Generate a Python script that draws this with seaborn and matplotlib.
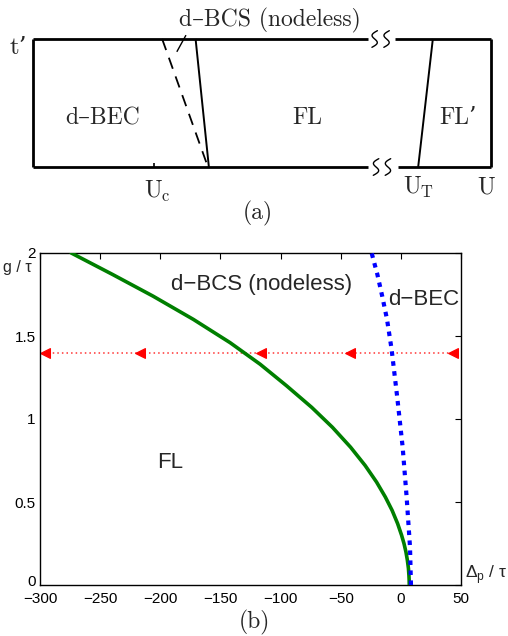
import numpy as np
import matplotlib
matplotlib.use("Agg")
import matplotlib.pyplot as plt
import matplotlib.transforms as mtransforms
import seaborn as sns
import pandas as pd

sns.set_style("white")
plt.rcParams['font.family'] = ['Liberation Sans', 'DejaVu Sans']

# ---------------- data: panel (b) ----------------
green_g = [0.00, 0.03, 0.06, 0.10, 0.15, 0.20, 0.25, 0.30, 0.37, 0.45, 0.53,
           0.62, 0.72, 0.83, 0.95, 1.07, 1.20, 1.33, 1.46, 1.60, 1.74, 1.87, 2.00]
green_dp = [7.0, 6.9, 6.7, 6.3, 5.4, 4.2, 2.6, 0.6, -2.7, -7.3, -12.9,
            -20.2, -29.7, -41.8, -56.9, -74.1, -95.0, -117.0, -142.0, -172.5,
            -206.0, -239.5, -274.0]
blue_g = [0.00, 0.23, 0.53, 0.83, 1.13, 1.42, 1.60, 1.74, 1.87, 2.00]
blue_dp = [8.4, 7.6, 4.8, 1.5, -3.0, -7.7, -11.5, -15.5, -19.5, -24.3]
red_dp = [43.0, -42.0, -116.0, -217.0, -296.0]
red_g = [1.4, 1.4, 1.4, 1.4, 1.4]
xticks_b = [-300, -250, -200, -150, -100, -50, 0, 50]
yticks_b = [0, 0.5, 1, 1.5, 2]
ytick_labels_b = ["0", "0.5", "1", "1.5", "2"]

# ---------------- schematic: panel (a) (schematic units) ----------------
box_top_left = [0.0, 0.731]
box_top_right = [0.790, 1.0]
box_bot_left = [0.0, 0.731]
box_bot_right = [0.797, 1.0]
solid_line_x = [0.355, 0.384]
dashed_line_x = [0.282, 0.382]
ut_line_x = [0.873, 0.841]
uc_tick_x = 0.264
pointer_x = [0.314, 0.334]
pointer_y = [0.90, 1.03]
break_top_x = [0.746, 0.772]
break_bot_x = [0.749, 0.775]

fig = plt.figure(figsize=(5.08, 6.36), dpi=100)

# ---------------- panel (a) ----------------
axa = fig.add_axes([33/508, (636-167)/636, 458/508, 128/636])
axa.set_xlim(0, 1)
axa.set_ylim(0, 1)
axa.axis('off')
lk = dict(color='black', clip_on=False, solid_capstyle='butt')
axa.plot(box_top_left, [1, 1], lw=2.0, **lk)
axa.plot(box_top_right, [1, 1], lw=2.0, **lk)
axa.plot(box_bot_left, [0, 0], lw=2.0, **lk)
axa.plot(box_bot_right, [0, 0], lw=2.0, **lk)
axa.plot([0, 0], [0, 1], lw=2.0, **lk)
axa.plot([1, 1], [0, 1], lw=2.0, **lk)
axa.plot(solid_line_x, [1, 0], lw=1.4, **lk)
axa.plot(ut_line_x, [1, 0], lw=1.4, **lk)
axa.plot(dashed_line_x, [1, 0], lw=1.3, color='black', dashes=(6.5, 4.5), clip_on=False)
axa.plot([uc_tick_x, uc_tick_x], [0, 0.03], lw=1.2, **lk)
axa.plot(pointer_x, pointer_y, lw=1.0, **lk)

t = np.linspace(0, 1, 60)
def s_curve(xc, yc):
    w = 0.0085
    h = 0.13
    xs = xc - w * np.sin(2 * np.pi * t) + 0.012 * (0.5 - t)
    ys = yc + h * (0.5 - t)
    return xs, ys
for xc in break_top_x:
    xs, ys = s_curve(xc, 1.0)
    axa.plot(xs, ys, lw=1.0, color='black', clip_on=False)
for xc in break_bot_x:
    xs, ys = s_curve(xc, 0.0)
    axa.plot(xs, ys, lw=1.0, color='black', clip_on=False)

cm = dict(family=['cmr10', 'DejaVu Serif'], fontsize=17, ha='center', va='center')
axa.text(-0.012, 0.93, "t\u2019", family=['cmr10', 'DejaVu Serif'], fontsize=18,
         ha='right', va='center')
axa.text(0.153, 0.383, "d\u2013BEC", **cm)
axa.text(0.598, 0.383, "FL", **cm)
axa.text(0.928, 0.383, "FL\u2019", **cm)
axa.text(0.271, -0.19, r"U$_\mathregular{c}$", **cm)
axa.text(0.841, -0.16, r"U$_\mathregular{T}$", **cm)
axa.text(0.989, -0.16, "U", **cm)
axa.text(0.517, 1.148, "d\u2013BCS (nodeless)", **cm)
axa.text(0.491, -0.36, "(a)", **cm)

# ---------------- panel (b) ----------------
axb = fig.add_axes([40/508, (636-585)/636, 421/508, 332/636])
df_g = pd.DataFrame({'dp': green_dp, 'g': green_g})
df_b = pd.DataFrame({'dp': blue_dp, 'g': blue_g})
df_r = pd.DataFrame({'dp': red_dp, 'g': red_g})
sns.lineplot(data=df_r, x='dp', y='g', sort=False, estimator=None, ax=axb,
             color='#ff3333', lw=1.1, linestyle=(0, (1, 2)), marker='<',
             markersize=7, markerfacecolor='red', markeredgecolor='red', zorder=2)
sns.lineplot(data=df_g, x='dp', y='g', sort=False, estimator=None, ax=axb,
             color='#007f00', lw=2.6, zorder=3)
sns.lineplot(data=df_b, x='dp', y='g', sort=False, estimator=None, ax=axb,
             color='#0000ff', lw=3.0, linestyle=(0, (1.1, 1.3)),
             dash_capstyle='butt', zorder=4)
axb.set_xlim(-300, 50)
axb.set_ylim(0, 2)
axb.set_xticks(xticks_b)
axb.set_yticks(yticks_b)
axb.set_yticklabels(ytick_labels_b)
axb.set_xlabel("")
axb.set_ylabel("")
for sp in axb.spines.values():
    sp.set_visible(True)
    sp.set_color('black')
    sp.set_linewidth(1.0)
axb.tick_params(direction='in', length=4, width=0.8, top=True, right=True,
                labelsize=11, colors='black')
axb.tick_params(axis='x', pad=5)
axb.tick_params(axis='y', pad=3)
# nudge the "0" y label up slightly so it does not collide with "-300"
zero_lbl = axb.get_yticklabels()[0]
zero_lbl.set_transform(zero_lbl.get_transform() +
                       mtransforms.ScaledTranslation(0, 4/100, fig.dpi_scale_trans))
axb.text(-116, 1.81, "d\u2212BCS (nodeless)", fontsize=16, ha='center', va='center')
axb.text(-10.7, 1.72, "d\u2212BEC", fontsize=16, ha='left', va='center')
axb.text(-192, 0.735, "FL", fontsize=16, ha='center', va='center')
axb.text(-0.02, 0.955, "g / \u03c4", transform=axb.transAxes, fontsize=11.5,
         ha='right', va='center')
axb.text(1.01, 0.03, "\u0394$_\\mathregular{p}$ / \u03c4",
         transform=axb.transAxes, fontsize=12.5, ha='left', va='center')
fig.text(254/508, 1 - 622/636, "(b)", family=['cmr10', 'DejaVu Serif'],
         fontsize=17, ha='center', va='center')

fig.savefig("out.png", dpi=100)
